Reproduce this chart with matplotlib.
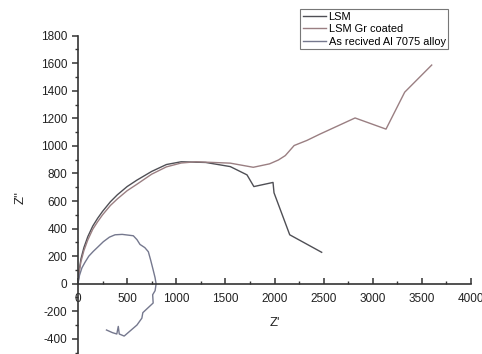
import matplotlib
matplotlib.use("Agg")
import matplotlib.pyplot as plt
from matplotlib.ticker import MultipleLocator

plt.rcParams['font.family'] = ['Liberation Sans', 'DejaVu Sans']
plt.rcParams['axes.unicode_minus'] = False

# --- data ---
lsm_x = [0, 10, 30, 60, 100, 150, 200, 250, 330, 400, 500, 600, 750, 900, 1050,
         1300, 1550, 1720, 1790, 1985, 1995, 2155, 2480]
lsm_y = [0, 85, 180, 262, 342, 418, 475, 525, 595, 645, 705, 752, 815, 865, 885,
         880, 850, 790, 705, 735, 660, 355, 228]

gr_x = [0, 10, 30, 60, 100, 150, 200, 250, 330, 400, 500, 600, 750, 900, 1050, 1200,
        1550, 1784, 1950, 2040, 2110, 2200, 2330, 2460, 2820, 3135, 3325, 3600]
gr_y = [0, 75, 160, 240, 318, 395, 450, 500, 568, 615, 675, 722, 795, 848, 876, 885,
        875, 845, 870, 898, 930, 1003, 1040, 1085, 1203, 1122, 1390, 1587]

al_x = [0, 15, 40, 71, 110, 156, 200, 258, 320, 377, 450, 563, 600, 631, 680, 716, 740,
        765, 784, 795, 785, 760, 765, 720, 660, 650, 600, 470, 420, 410, 395, 350, 290]
al_y = [0, 60, 115, 155, 200, 235, 265, 305, 338, 355, 358, 348, 320, 285, 262, 232, 170,
        100, 45, 0, -50, -80, -140, -170, -210, -250, -300, -380, -365, -310, -365, -355, -336]

labels = ["LSM", "LSM Gr coated", "As recived Al 7075 alloy"]
colors = ["#4f4f55", "#9a7f82", "#75788e"]

x_ticks = [0, 500, 1000, 1500, 2000, 2500, 3000, 3500, 4000]
y_ticks = [-400, -200, 0, 200, 400, 600, 800, 1000, 1200, 1400, 1600, 1800]

fig = plt.figure(figsize=(4.82, 3.54), dpi=100)
ax = fig.add_axes([78/482, 1 - 352.6/354, 393/482, (352.6 - 35.7)/354])

ax.plot(lsm_x, lsm_y, color=colors[0], lw=1.0, label=labels[0])
ax.plot(gr_x, gr_y, color=colors[1], lw=1.0, label=labels[1])
ax.plot(al_x, al_y, color=colors[2], lw=1.0, label=labels[2])

ax.set_xlim(0, 4000)
ax.set_ylim(-500, 1800)
ax.set_xticks(x_ticks)
ax.set_yticks(y_ticks)
ax.xaxis.set_minor_locator(MultipleLocator(250))
ax.yaxis.set_minor_locator(MultipleLocator(100))

for s in ['top', 'right']:
    ax.spines[s].set_visible(False)
ax.spines['bottom'].set_position(('data', 0))
ax.spines['left'].set_position(('data', 0))
for s in ['bottom', 'left']:
    ax.spines[s].set_linewidth(1.2)
    ax.spines[s].set_color('#333333')

ax.tick_params(axis='x', which='major', direction='in', length=4, width=1.1, pad=7,
               labelsize=8.5, colors='#333333')
ax.tick_params(axis='x', which='minor', direction='in', length=2.5, width=1.0, colors='#333333')
ax.tick_params(axis='y', which='major', direction='out', length=4.5, width=1.1, pad=3,
               labelsize=8.5, colors='#333333')
ax.tick_params(axis='y', which='minor', direction='out', length=2.5, width=1.0, colors='#333333')
for t in ax.get_xticklabels() + ax.get_yticklabels():
    t.set_color('#222222')

ax.set_xlabel("Z'", fontsize=9.5, color='#222222')
ax.xaxis.set_label_coords(0.5, 0.113)
ax.set_ylabel("Z''", fontsize=9.5, color='#222222')
ax.yaxis.set_label_coords(-0.13, 0.488)

leg = ax.legend(loc='upper left', bbox_to_anchor=(300/482, 1 - 9/354),
                bbox_transform=fig.transFigure, borderaxespad=0,
                fancybox=False, frameon=True, fontsize=7.9,
                handlelength=2.1, handletextpad=0.25, labelspacing=0.22,
                borderpad=0.25)
leg.get_frame().set_edgecolor('#555555')
leg.get_frame().set_linewidth(0.8)

fig.savefig("out.png", dpi=100)
